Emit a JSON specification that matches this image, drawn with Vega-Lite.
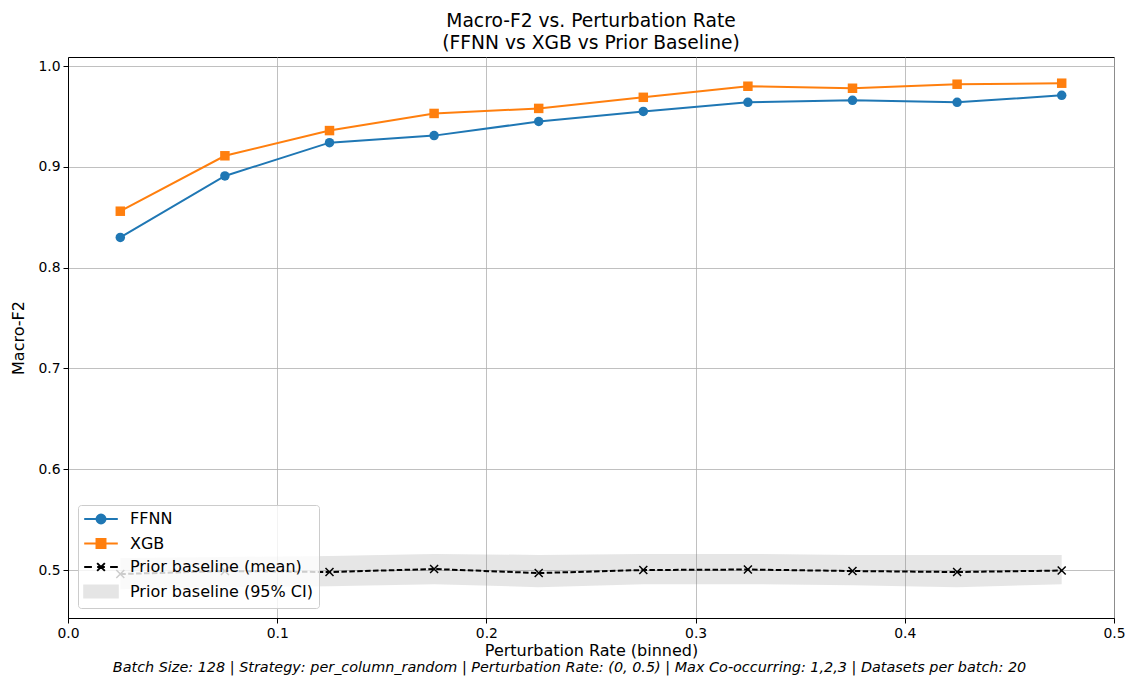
{
  "$schema": "https://vega.github.io/schema/vega-lite/v6.json",
  "width": 1046,
  "height": 561,
  "autosize": {"type": "none"},
  "padding": {"left": 68, "top": 57, "right": 14, "bottom": 61},
  "background": "white",
  "title": {
    "text": ["Macro-F2 vs. Perturbation Rate", "(FFNN vs XGB vs Prior Baseline)"],
    "anchor": "middle",
    "frame": "group",
    "font": "DejaVu Sans",
    "fontSize": 18.7,
    "fontWeight": "normal",
    "color": "black",
    "lineHeight": 22,
    "offset": 4
  },
  "config": {
    "font": "DejaVu Sans",
    "view": {"stroke": "black", "strokeWidth": 1},
    "axis": {
      "labelFont": "DejaVu Sans",
      "labelFontSize": 13.9,
      "labelColor": "black",
      "titleFont": "DejaVu Sans",
      "titleFontSize": 16,
      "titleFontWeight": "normal",
      "titleColor": "black",
      "tickColor": "black",
      "tickSize": 5,
      "tickWidth": 1,
      "domainColor": "black",
      "gridColor": "#b0b0b0",
      "gridWidth": 0.8,
      "labelFlush": false,
      "labelOverlap": false
    },
    "legend": {
      "labelFont": "DejaVu Sans",
      "labelFontSize": 16,
      "labelColor": "black",
      "labelLimit": 400
    }
  },
  "datasets": {
    "models": [
      {"rate": 0.025, "series": "FFNN", "f2": 0.830},
      {"rate": 0.075, "series": "FFNN", "f2": 0.891},
      {"rate": 0.125, "series": "FFNN", "f2": 0.924},
      {"rate": 0.175, "series": "FFNN", "f2": 0.931},
      {"rate": 0.225, "series": "FFNN", "f2": 0.945},
      {"rate": 0.275, "series": "FFNN", "f2": 0.955},
      {"rate": 0.325, "series": "FFNN", "f2": 0.964},
      {"rate": 0.375, "series": "FFNN", "f2": 0.966},
      {"rate": 0.425, "series": "FFNN", "f2": 0.964},
      {"rate": 0.475, "series": "FFNN", "f2": 0.971},
      {"rate": 0.025, "series": "XGB", "f2": 0.856},
      {"rate": 0.075, "series": "XGB", "f2": 0.911},
      {"rate": 0.125, "series": "XGB", "f2": 0.936},
      {"rate": 0.175, "series": "XGB", "f2": 0.953},
      {"rate": 0.225, "series": "XGB", "f2": 0.958},
      {"rate": 0.275, "series": "XGB", "f2": 0.969},
      {"rate": 0.325, "series": "XGB", "f2": 0.980},
      {"rate": 0.375, "series": "XGB", "f2": 0.978},
      {"rate": 0.425, "series": "XGB", "f2": 0.982},
      {"rate": 0.475, "series": "XGB", "f2": 0.983}
    ],
    "baseline": [
      {"rate": 0.025, "mean": 0.496, "lo": 0.481, "hi": 0.512},
      {"rate": 0.075, "mean": 0.499, "lo": 0.483, "hi": 0.513},
      {"rate": 0.125, "mean": 0.498, "lo": 0.484, "hi": 0.514},
      {"rate": 0.175, "mean": 0.501, "lo": 0.486, "hi": 0.516},
      {"rate": 0.225, "mean": 0.497, "lo": 0.483, "hi": 0.515},
      {"rate": 0.275, "mean": 0.500, "lo": 0.486, "hi": 0.516},
      {"rate": 0.325, "mean": 0.5005, "lo": 0.486, "hi": 0.516},
      {"rate": 0.375, "mean": 0.499, "lo": 0.485, "hi": 0.515},
      {"rate": 0.425, "mean": 0.498, "lo": 0.483, "hi": 0.515},
      {"rate": 0.475, "mean": 0.4995, "lo": 0.486, "hi": 0.515}
    ]
  },
  "layer": [
    {
      "layer": [
        {
          "data": {"name": "baseline"},
          "mark": {"type": "area", "color": "#808080", "opacity": 0.2},
          "encoding": {
            "x": {
              "field": "rate", "type": "quantitative",
              "scale": {"domain": [0, 0.5], "nice": false, "zero": false},
              "axis": {
                "title": "Perturbation Rate (binned)",
                "values": [0, 0.1, 0.2, 0.3, 0.4, 0.5],
                "format": ".1f",
                "grid": true,
                "labelPadding": 3,
                "titlePadding": 3
              }
            },
            "y": {
              "field": "lo", "type": "quantitative",
              "scale": {"domain": [0.4524, 1.009], "nice": false, "zero": false},
              "axis": {
                "title": "Macro-F2",
                "values": [0.5, 0.6, 0.7, 0.8, 0.9, 1.0],
                "format": ".1f",
                "grid": true,
                "labelPadding": 3,
                "titlePadding": 11
              }
            },
            "y2": {"field": "hi"}
          }
        },
        {
          "data": {"name": "baseline"},
          "mark": {"type": "line", "color": "black", "strokeWidth": 2, "strokeDash": [5.5, 2.4]},
          "encoding": {
            "x": {"field": "rate", "type": "quantitative"},
            "y": {"field": "mean", "type": "quantitative"}
          }
        },
        {
          "data": {"name": "baseline"},
          "mark": {"type": "point", "shape": "M-1,-1L1,1M-1,1L1,-1", "size": 64, "stroke": "black", "strokeWidth": 1.5, "filled": false, "opacity": 1},
          "encoding": {
            "x": {"field": "rate", "type": "quantitative"},
            "y": {"field": "mean", "type": "quantitative"}
          }
        },
        {
          "data": {"name": "models"},
          "mark": {"type": "line", "strokeWidth": 2},
          "encoding": {
            "x": {"field": "rate", "type": "quantitative"},
            "y": {"field": "f2", "type": "quantitative"},
            "color": {
              "field": "series", "type": "nominal",
              "scale": {
                "domain": ["FFNN", "XGB", "Prior baseline (mean)", "Prior baseline (95% CI)"],
                "range": ["#1f77b4", "#ff7f0e", "#000000", "#e5e5e5"]
              },
              "legend": {
                "title": null,
                "orient": "bottom-left",
                "offset": 10,
                "fillColor": "rgba(255,255,255,0.8)",
                "strokeColor": "#cccccc",
                "cornerRadius": 3,
                "padding": 6,
                "symbolSize": 196,
                "rowPadding": 6.5,
                "labelOffset": 30,
                "labelLimit": 400,
                "encode": {
                  "symbols": {
                    "update": {
                      "shape": {"signal": "datum.value === 'FFNN' ? 'M-2.4,0H2.4M0.64,0A0.64,0.64 0 1,1 -0.64,0A0.64,0.64 0 1,1 0.64,0Z' : datum.value === 'XGB' ? 'M-2.4,0H2.4M-0.64,-0.64H0.64V0.64H-0.64Z' : datum.value === 'Prior baseline (mean)' ? 'M-2.4,0H-1.3M-0.55,0H0.55M1.3,0H2.4M-0.55,-0.55L0.55,0.55M-0.55,0.55L0.55,-0.55' : 'M-2.4,-0.85H2.4V0.85H-2.4Z'"},
                      "fill": {"signal": "datum.value === 'FFNN' ? '#1f77b4' : datum.value === 'XGB' ? '#ff7f0e' : datum.value === 'Prior baseline (mean)' ? 'transparent' : '#e5e5e5'"},
                      "stroke": {"signal": "datum.value === 'FFNN' ? '#1f77b4' : datum.value === 'XGB' ? '#ff7f0e' : datum.value === 'Prior baseline (mean)' ? 'black' : 'transparent'"},
                      "strokeWidth": {"value": 2},
                      "opacity": {"value": 1},
                      "fillOpacity": {"value": 1},
                      "strokeOpacity": {"value": 1},
                      "strokeDash": {"value": []},
                      "x": {"value": 17}
                    }
                  }
                }
              }
            }
          }
        },
        {
          "data": {"name": "models"},
          "mark": {"type": "point", "filled": true, "size": 90, "opacity": 1},
          "encoding": {
            "x": {"field": "rate", "type": "quantitative"},
            "y": {"field": "f2", "type": "quantitative"},
            "color": {"field": "series", "type": "nominal"},
            "shape": {
              "field": "series", "type": "nominal",
              "scale": {"domain": ["FFNN", "XGB"], "range": ["circle", "square"]},
              "legend": null
            }
          }
        }
      ]
    },
    {
      "data": {"name": "models"},
      "mark": {"type": "point", "opacity": 0},
      "encoding": {
        "x": {
          "field": "rate", "type": "quantitative",
          "scale": {"domain": [0, 0.5], "nice": false, "zero": false},
          "axis": {
            "orient": "bottom",
            "title": "Batch Size: 128 | Strategy: per_column_random | Perturbation Rate: (0, 0.5) | Max Co-occurring: 1,2,3 | Datasets per batch: 20",
            "labels": false,
            "ticks": false,
            "domain": false,
            "grid": false,
            "titleFontStyle": "italic",
            "titleFontSize": 14.4,
            "titlePadding": 42,
            "titleX": 501
          }
        },
        "y": {"field": "f2", "type": "quantitative"}
      }
    }
  ],
  "resolve": {"scale": {"x": "independent"}, "axis": {"x": "independent"}}
}
